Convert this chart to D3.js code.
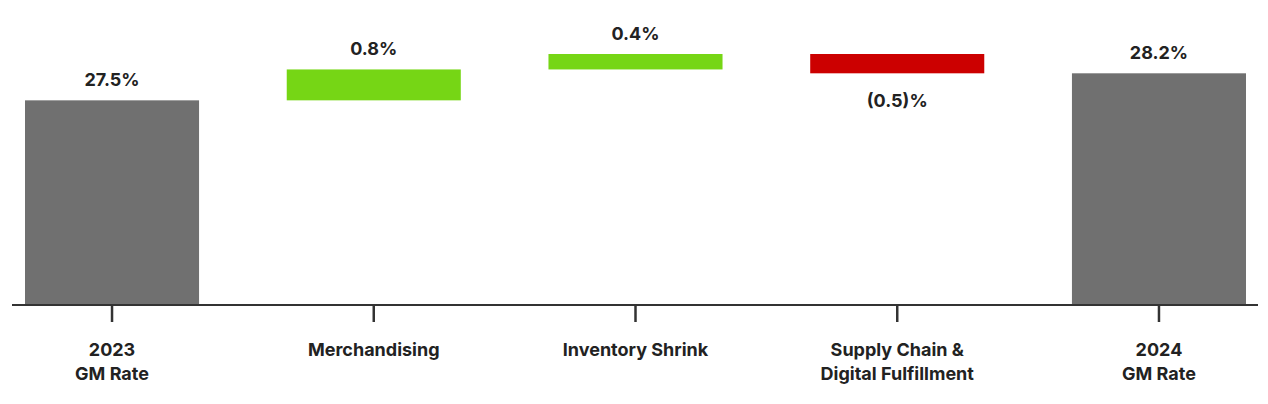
<!DOCTYPE html>
<html><head><meta charset="utf-8">
<script src="https://cdn.jsdelivr.net/npm/d3@7"></script>
<style>body{margin:0;background:#fff}text{font-family:Inter,"Liberation Sans",Arial,sans-serif;font-weight:700;fill:#222}</style>
</head><body><svg id="c" width="1268" height="404"></svg>
<script>
const categories = ["2023|GM Rate","Merchandising","Inventory Shrink","Supply Chain &|Digital Fulfillment","2024|GM Rate"];
const deltas = [27.5, 0.8, 0.4, -0.5, 28.2];
const kinds = ["total","delta","delta","delta","total"];
const labels = ["27.5%","0.8%","0.4%","(0.5)%","28.2%"];

const svg = d3.select("#c");
const x = d3.scaleBand().domain(categories).range([25,1246]).paddingInner(0.335).paddingOuter(0);
const y = d3.scaleLinear().domain([22.2, 28.7]).range([305, 54]);

let run = 0;
const rows = categories.map((c,i)=>{
  let lo, hi;
  if(kinds[i]==="total"){ lo=y.domain()[0]; hi=deltas[i]; run=deltas[i]; }
  else { const s=run; run+=deltas[i]; lo=Math.min(s,run); hi=Math.max(s,run); }
  const color = kinds[i]==="total" ? "#707070" : (deltas[i]>=0 ? "#76d615" : "#cc0000");
  return {c, lo, hi, color, label: labels[i], neg: deltas[i]<0};
});

svg.selectAll("rect").data(rows).join("rect")
  .attr("x", d=>x(d.c)).attr("width", x.bandwidth())
  .attr("y", d=>y(d.hi)).attr("height", d=>y(d.lo)-y(d.hi))
  .attr("fill", d=>d.color);

svg.selectAll("text.v").data(rows).join("text").attr("class","v")
  .attr("x", d=>x(d.c)+x.bandwidth()/2)
  .attr("y", d=> d.neg ? y(d.lo)+34 : y(d.hi)-14)
  .attr("text-anchor","middle").attr("font-size",18).text(d=>d.label);

const ax = svg.append("g").attr("transform","translate(0,305)");
ax.append("line").attr("x1",12).attr("x2",1258).attr("stroke","#333").attr("stroke-width",2);
ax.selectAll("line.t").data(categories).join("line").attr("class","t")
  .attr("x1",d=>x(d)+x.bandwidth()/2).attr("x2",d=>x(d)+x.bandwidth()/2)
  .attr("y1",0).attr("y2",17).attr("stroke","#333").attr("stroke-width",2.5);
const lt = ax.selectAll("text.cat").data(categories).join("text").attr("class","cat")
  .attr("text-anchor","middle").attr("font-size",18)
  .attr("transform",d=>`translate(${x(d)+x.bandwidth()/2},0)`);
lt.selectAll("tspan").data(d=>d.split("|")).join("tspan")
  .attr("x",0).attr("y",(d,i)=>51+i*24).text(d=>d);
</script></body></html>
